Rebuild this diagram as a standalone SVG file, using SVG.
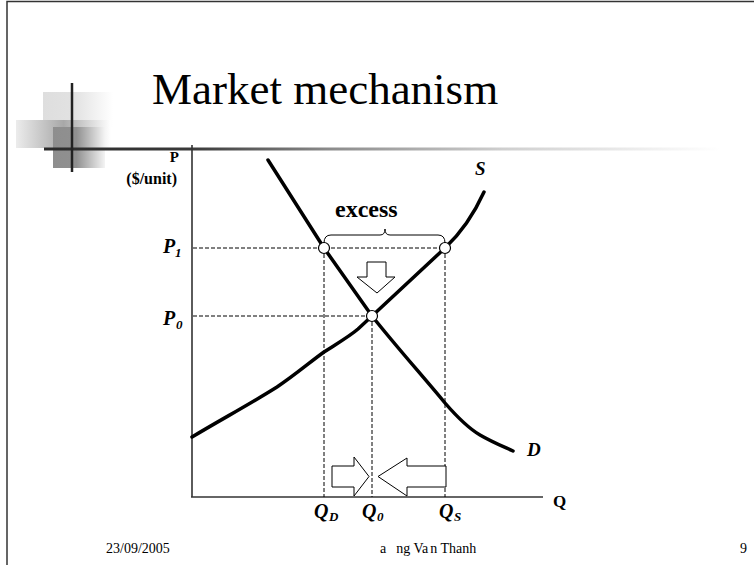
<svg xmlns="http://www.w3.org/2000/svg" width="754" height="565" viewBox="0 0 754 565">
<style>
.serif{font-family:"Liberation Serif","Times New Roman",serif;fill:#000}
.lbl{font-family:"Liberation Serif","Times New Roman",serif;font-weight:bold;fill:#000}
.it{font-style:italic}
.dash{stroke:#000;stroke-width:1;stroke-dasharray:4 2;fill:none}
.curve{stroke:#000;stroke-width:3.5;fill:none;stroke-linejoin:round;stroke-linecap:round}
.axis{stroke:#333;stroke-width:1.6;fill:none}
.dot{fill:#fff;stroke:#000;stroke-width:1.2}
.hollow{fill:#fff;stroke:#000;stroke-width:1}
</style>
<defs>
<linearGradient id="hline" x1="44" y1="0" x2="720" y2="0" gradientUnits="userSpaceOnUse">
<stop offset="0" stop-color="#2a2a2a"/><stop offset="0.22" stop-color="#3a3a3a"/><stop offset="0.42" stop-color="#8a8a8a"/><stop offset="0.68" stop-color="#cfcfcf"/><stop offset="1" stop-color="#ffffff"/>
</linearGradient>
<linearGradient id="g1" x1="0" y1="0" x2="1" y2="0">
<stop offset="0" stop-color="#dedede"/><stop offset="0.45" stop-color="#e2e2e2"/><stop offset="1" stop-color="#ffffff"/>
</linearGradient>
<linearGradient id="g2" x1="0" y1="0" x2="1" y2="0">
<stop offset="0" stop-color="#ececec"/><stop offset="0.5" stop-color="#a8a8a8"/><stop offset="1" stop-color="#ffffff"/>
</linearGradient>
<linearGradient id="g3" x1="0" y1="0" x2="1" y2="0">
<stop offset="0" stop-color="#8e8e8e"/><stop offset="0.45" stop-color="#909090"/><stop offset="1" stop-color="#f4f4f4"/>
</linearGradient>
</defs>
<rect width="754" height="565" fill="#fff"/>
<g id="frame"><path d="M7,565 V1.5 H754" fill="none" stroke="#333" stroke-width="1.5"/></g>
<g id="decoration">
<rect x="43" y="92" width="70" height="35" fill="url(#g1)"/>
<rect x="16" y="120" width="95" height="28" fill="url(#g2)"/>
<rect x="53" y="127" width="52" height="41" fill="url(#g3)"/>
<rect x="44" y="147.5" width="676" height="3" fill="url(#hline)"/>
<line x1="72" y1="83" x2="72" y2="172" stroke="#222" stroke-width="2.5"/>
</g>
<g id="title"><text class="serif" x="152" y="104" font-size="45">Market mechanism</text></g>
<g id="axes">
<line class="axis" x1="192" y1="145" x2="192" y2="497"/>
<line class="axis" x1="191" y1="497" x2="543" y2="497"/>
<text class="lbl" x="179" y="162" font-size="15" text-anchor="end">P</text>
<text class="lbl" x="177" y="184" font-size="16" text-anchor="end">($/unit)</text>
<text class="lbl" x="553" y="507" font-size="17">Q</text>
</g>
<g id="guides">
<line class="dash" x1="193" y1="248" x2="445" y2="248"/>
<line class="dash" x1="193" y1="316" x2="372" y2="316"/>
<line class="dash" x1="324" y1="248" x2="324" y2="497"/>
<line class="dash" x1="372" y1="316" x2="372" y2="497"/>
<line class="dash" x1="445" y1="248" x2="445" y2="497"/>
</g>
<g id="demand">
<path class="curve" d="M268,160 L324,248 L372,316 C395,345 420,373 445,403 C458,418 468,428 480,435 C492,442 502,446 513,451"/>
<text class="lbl it" x="527" y="456" font-size="19">D</text>
</g>
<g id="supply">
<path class="curve" d="M192,437 C222,419 250,404 277,387 C295,375 310,362 324,352 C338,343 350,336 358,329 L372,316 L445,248 C462,232 474,214 484,192"/>
<text class="lbl it" x="475" y="175" font-size="19">S</text>
</g>
<g id="points">
<circle class="dot" cx="324" cy="248" r="5.5"/>
<circle class="dot" cx="445" cy="248" r="5.5"/>
<circle class="dot" cx="372" cy="316" r="5.5"/>
</g>
<g id="excess">
<path d="M324,243 Q324,235 331,235 H380 Q385,235 385,229 Q385,235 390,235 H438 Q445,235 445,243" fill="none" stroke="#000" stroke-width="1"/>
<text class="lbl" x="335" y="217" font-size="24">excess</text>
</g>
<g id="arrows">
<polygon class="hollow" points="367,262 386,262 386,277 395,277 377,293 357,277 367,277"/>
<polygon class="hollow" points="332,466 354,466 354,457 369,476.5 354,496 354,487 332,487"/>
<polygon class="hollow" points="446,466 407,466 407,458 378,476.5 407,496 407,487 446,487"/>
</g>
<g id="labels">
<text class="lbl it" x="163" y="253" font-size="20">P</text><text class="lbl it" x="175" y="257" font-size="13">1</text>
<text class="lbl it" x="163" y="325" font-size="20">P</text><text class="lbl it" x="176" y="329" font-size="13">0</text>
<text class="lbl it" x="314" y="518" font-size="20">Q</text><text class="lbl it" x="329" y="521" font-size="13">D</text>
<text class="lbl it" x="362" y="518" font-size="20">Q</text><text class="lbl it" x="377" y="521" font-size="13">0</text>
<text class="lbl it" x="439" y="518" font-size="20">Q</text><text class="lbl it" x="454" y="521" font-size="13">S</text>
</g>
<g id="footer">
<text class="serif" x="106" y="553" font-size="14">23/09/2005</text>
<text class="serif" x="380" y="553" font-size="14">a<tspan dx="10">ng Va</tspan><tspan dx="2">n Thanh</tspan></text>
<text class="serif" x="740" y="553" font-size="14">9</text>
</g>
</svg>
